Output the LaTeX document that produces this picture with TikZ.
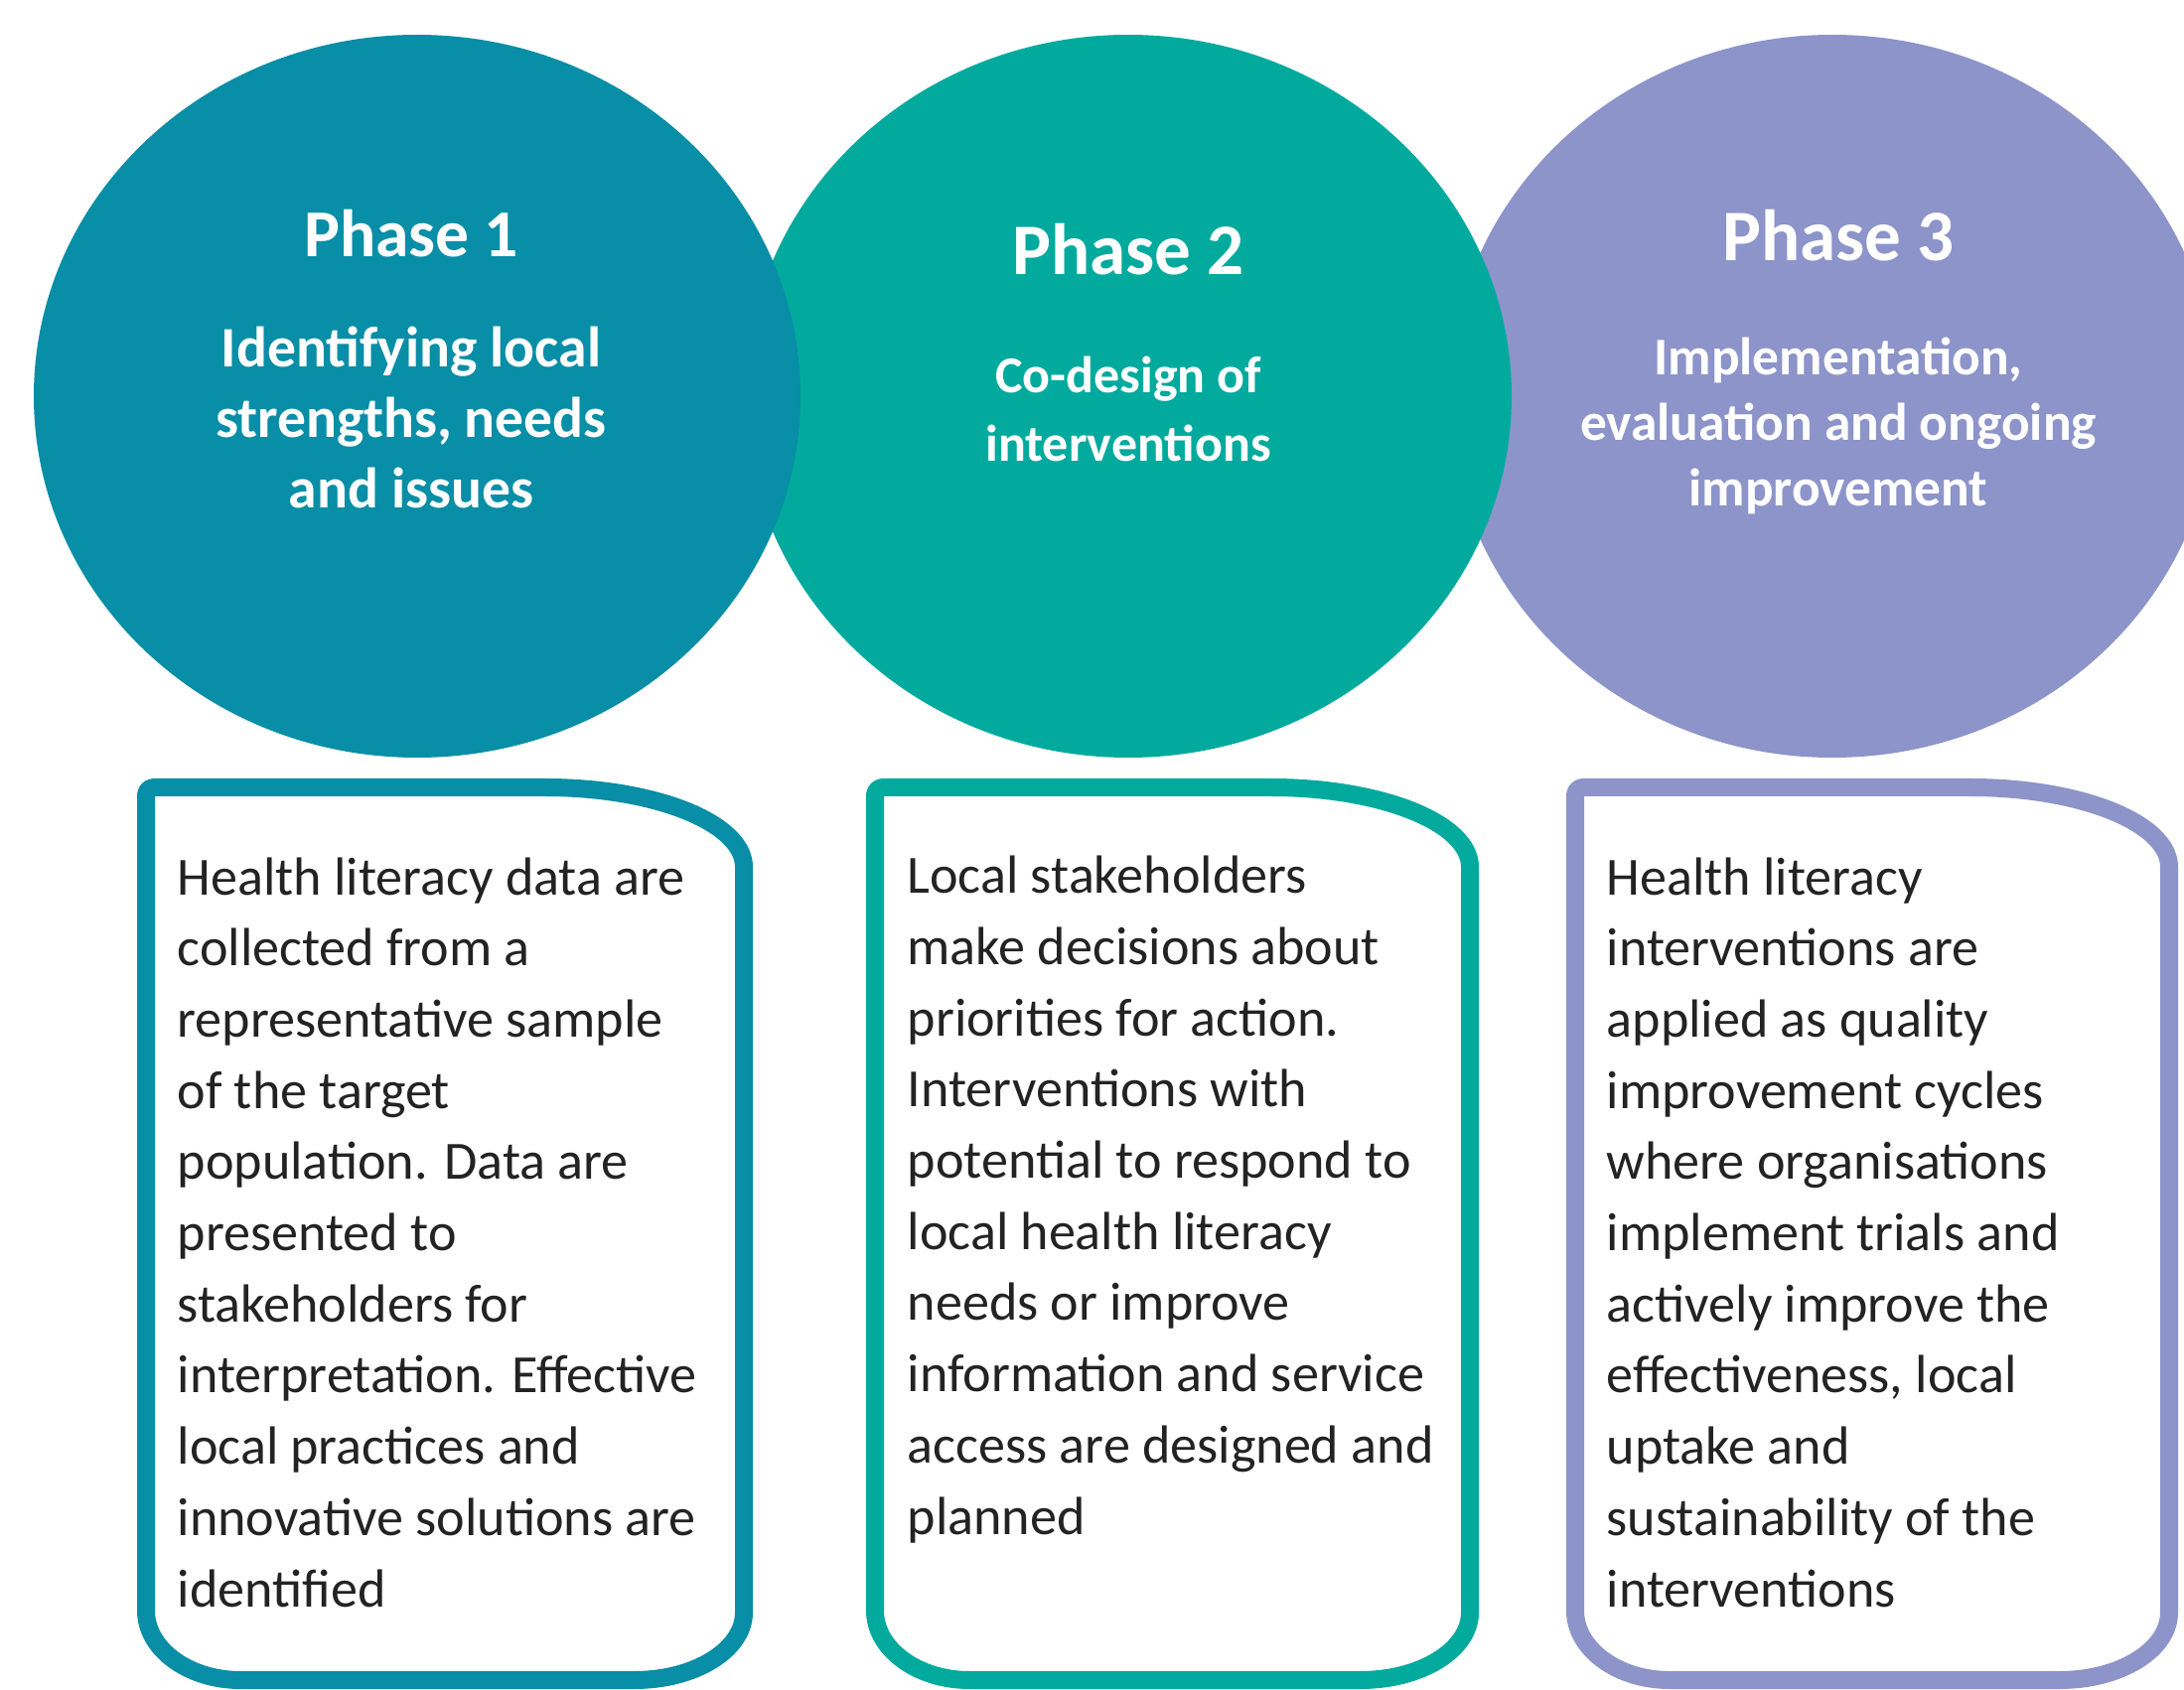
\documentclass[tikz,border=0pt]{standalone}
\usepackage{fontspec}
\setmainfont{Carlito}
\usetikzlibrary{shapes.geometric}

\definecolor{phaseone}{RGB}{8,142,166}
\definecolor{phasetwo}{RGB}{2,170,158}
\definecolor{phasethree}{RGB}{140,148,202}
\definecolor{bodygrey}{RGB}{35,35,35}

% outline of a text panel: left, right, colour (centre line of the stroke)
\newcommand{\panelframe}[3]{%
  \draw[line width=1.8mm, #3, line join=round]
    (#1,1622) -- (#1,801)
    arc[start angle=180, end angle=270, radius=8]
    -- (#2-200,793)
    arc[start angle=270, end angle=360, x radius=200, y radius=80]
    -- (#2,1624)
    arc[start angle=0, end angle=90, x radius=110, y radius=68]
    -- (#1+95,1692)
    arc[start angle=90, end angle=180, x radius=95, y radius=70]
    -- cycle;}

\begin{document}
\begin{tikzpicture}[x=0.1mm, y=-0.1mm,
    disc/.style={ellipse, minimum width=77.2mm, minimum height=72.8mm, inner sep=0pt},
    phasetitle/.style={text=white, font=\fontsize{20.8}{24}\selectfont\bfseries, anchor=base},
    phasesub/.style={text=white, font=\fontsize{16.4}{20.3}\selectfont\bfseries, align=center, anchor=base},
    paneltext/.style={text=bodygrey, font=\fontsize{15.4}{20.4}\selectfont, align=left, anchor=base west, inner sep=0pt}]

    \clip (0,0) rectangle (2199,1702);
    \fill[white] (0,0) rectangle (2199,1702);

    % --- Phase discs (first one on top) ---
    \node[disc, fill=phasethree] (disc3) at (1845,399) {};
    \node[disc, fill=phasetwo] (disc2) at (1136,399) {};
    \node[disc, fill=phaseone] (disc1) at (420,399) {};

    % multi-line nodes: base is the last line
    \node[phasetitle, font=\fontsize{19.2}{23}\selectfont\bfseries] (title1) at (414,259) {Phase 1};
    \node[phasesub] (sub1) at (414,512) {Identifying local\\strengths, needs\\and issues};

    \node[phasetitle] (title2) at (1136,277) {Phase 2};
    \node[phasesub, font=\fontsize{14.8}{19.9}\selectfont\bfseries] (sub2) at (1136,465) {Co-design of\\interventions};

    \node[phasetitle] (title3) at (1851,263) {Phase 3};
    \node[phasesub, font=\fontsize{15.2}{18.9}\selectfont\bfseries] (sub3) at (1851,510) {Implementation,\\evaluation and ongoing\\improvement};

    % --- Text panels ---
    \panelframe{147}{749}{phaseone}
    \panelframe{881}{1480}{phasetwo}
    \panelframe{1586}{2184}{phasethree}

    \node[paneltext] (text1) at (178,1618) {Health literacy data are\\collected from a\\representative sample\\of the target\\population. Data are\\presented to\\stakeholders for\\interpretation. Effective\\local practices and\\innovative solutions are\\identified};
    \node[paneltext] (text2) at (913,1545) {Local stakeholders\\make decisions about\\priorities for action.\\Interventions with\\potential to respond to\\local health literacy\\needs or improve\\information and service\\access are designed and\\planned};
    \node[paneltext] (text3) at (1617,1618) {Health literacy\\interventions are\\applied as quality\\improvement cycles\\where organisations\\implement trials and\\actively improve the\\effectiveness, local\\uptake and\\sustainability of the\\interventions};
\end{tikzpicture}
\end{document}
